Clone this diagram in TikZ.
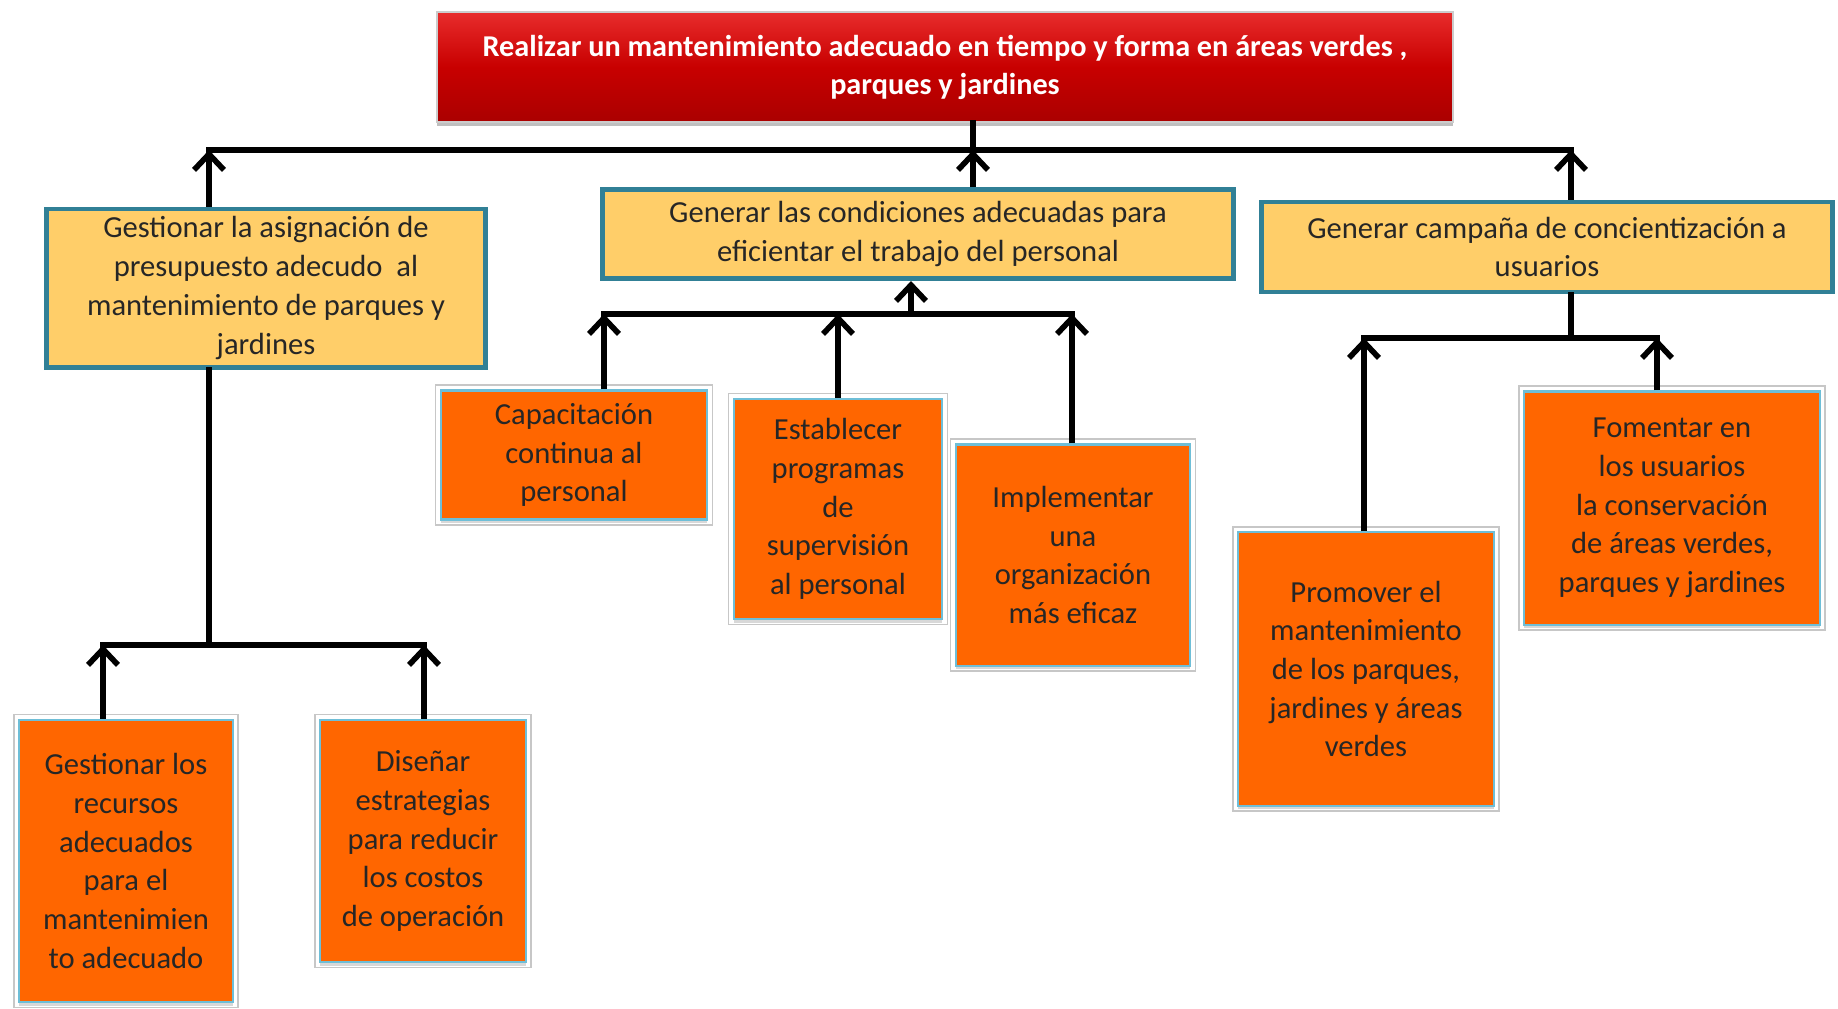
\documentclass[tikz,border=0pt]{standalone}
\usepackage{fontspec}
\setmainfont{Carlito}
\usetikzlibrary{arrows.meta}
\usetikzlibrary{shadows}
\definecolor{titlered}{RGB}{200,0,0}
\definecolor{titletop}{RGB}{232,44,44}
\definecolor{goalyellow}{RGB}{255,206,105}
\definecolor{goalteal}{RGB}{49,128,150}
\definecolor{taskorange}{RGB}{255,102,0}
\definecolor{taskblue}{RGB}{110,190,215}
\def\thickness{1.6pt}
\def\bodysize{\fontsize{8.7}{11}\selectfont}
\tikzset{
titlebox/.style={
	draw=black!20, line width=0.5pt,
	top color=titletop, bottom color=titlered!85!black, middle color=titlered,
	drop shadow={shadow xshift=0pt, shadow yshift=-1.2pt, opacity=0.5},
	minimum width=10.16cm, minimum height=1.10cm, inner sep=0pt,
	align=center, text=white, font=\bfseries\fontsize{8.6}{10.8}\selectfont
},
goalbox/.style 2 args={
	draw=goalteal, line width=1.4pt, fill=goalyellow,
	minimum width=#1, minimum height=#2, inner sep=0pt,
	align=center, text=black!85, font=\bodysize
},
taskbox/.style 2 args={
	preaction={draw=black!22, line width=3.4pt},
	preaction={draw=white, line width=2.6pt},
	draw=taskblue, line width=0.6pt, fill=taskorange,
	drop shadow={shadow xshift=0pt, shadow yshift=-1pt, opacity=0.3},
	minimum width=#1, minimum height=#2, inner sep=0pt,
	align=center, text=black!85, font=\bodysize
},
bar/.style={line width=\thickness, line cap=rect},
uparrow/.style={line width=\thickness, -{Straight Barb[length=4.5pt, width=8.5pt]}},
}

\begin{document}
\begin{tikzpicture}[x=0.01cm, y=-0.01cm]
\useasboundingbox (0,0) rectangle (1838,1008);
%Place the nodes
\node[titlebox] (goal) at (945,67) {Realizar un mantenimiento adecuado en tiempo y forma en áreas verdes ,\\parques y jardines};

\node[goalbox={4.39cm}{1.58cm}] (g1) at (266,288) {Gestionar la asignación de\\presupuesto adecudo\ \ al\\mantenimiento de parques y\\jardines};
\node[goalbox={6.31cm}{0.89cm}] (g2) at (918,234) {Generar las condiciones adecuadas para\\eficientar el trabajo del personal};
\node[goalbox={5.70cm}{0.90cm}] (g3) at (1547,247) {Generar campaña de concientización a\\usuarios};

\node[taskbox={2.13cm}{2.82cm}] (t11) at (126,861) {Gestionar los\\recursos\\adecuados\\para el\\mantenimien\\to adecuado};
\node[taskbox={2.05cm}{2.42cm}] (t12) at (423,841) {Diseñar\\estrategias\\para reducir\\los costos\\de operación};

\node[taskbox={2.66cm}{1.29cm}] (t21) at (574,455) {Capacitación\\continua al\\personal};
\node[taskbox={2.08cm}{2.20cm}] (t22) at (838,509) {Establecer\\programas\\de\\supervisión\\al personal};
\node[taskbox={2.34cm}{2.21cm}] (t23) at (1073,555) {Implementar\\una\\organización\\más eficaz};

\node[taskbox={2.55cm}{2.73cm}] (t31) at (1366,669) {Promover el\\mantenimiento\\de los parques,\\jardines y áreas\\verdes};
\node[taskbox={2.95cm}{2.33cm}] (t32) at (1672,508) {Fomentar en\\los usuarios\\la conservación\\de áreas verdes,\\parques y jardines};

%Bar points
\coordinate (b1) at (209,150);
\coordinate (b2) at (973,150);
\coordinate (b3) at (1571,150);
\coordinate (c1) at (209,645);
\coordinate (c11) at (103,645);
\coordinate (c12) at (424,645);
\coordinate (c2) at (911,314);
\coordinate (c21) at (604,314);
\coordinate (c22) at (838,314);
\coordinate (c23) at (1072,314);
\coordinate (c3) at (1571,338);
\coordinate (c31) at (1364,338);
\coordinate (c32) at (1657,338);

%Top level
\draw[bar] (goal.south -| b2) to (b2);
\draw[bar] (b1) to (b3);
\draw[uparrow] (g1.north -| b1) to (b1);
\draw[uparrow] (g2.north -| b2) to (b2);
\draw[uparrow] (g3.north -| b3) to (b3);

%Under each goal
\draw[bar] (g1.south -| c1) to (c1);
\draw[bar] (c11) to (c12);
\draw[uparrow] (t11.north -| c11) to (c11);
\draw[uparrow] (t12.north -| c12) to (c12);

\draw[uparrow] (c2) to (g2.south -| c2);
\draw[bar] (c21) to (c23);
\draw[uparrow] (t21.north -| c21) to (c21);
\draw[uparrow] (t22.north -| c22) to (c22);
\draw[uparrow] (t23.north -| c23) to (c23);

\draw[bar] (g3.south -| c3) to (c3);
\draw[bar] (c31) to (c32);
\draw[uparrow] (t31.north -| c31) to (c31);
\draw[uparrow] (t32.north -| c32) to (c32);

\end{tikzpicture}
\end{document}
